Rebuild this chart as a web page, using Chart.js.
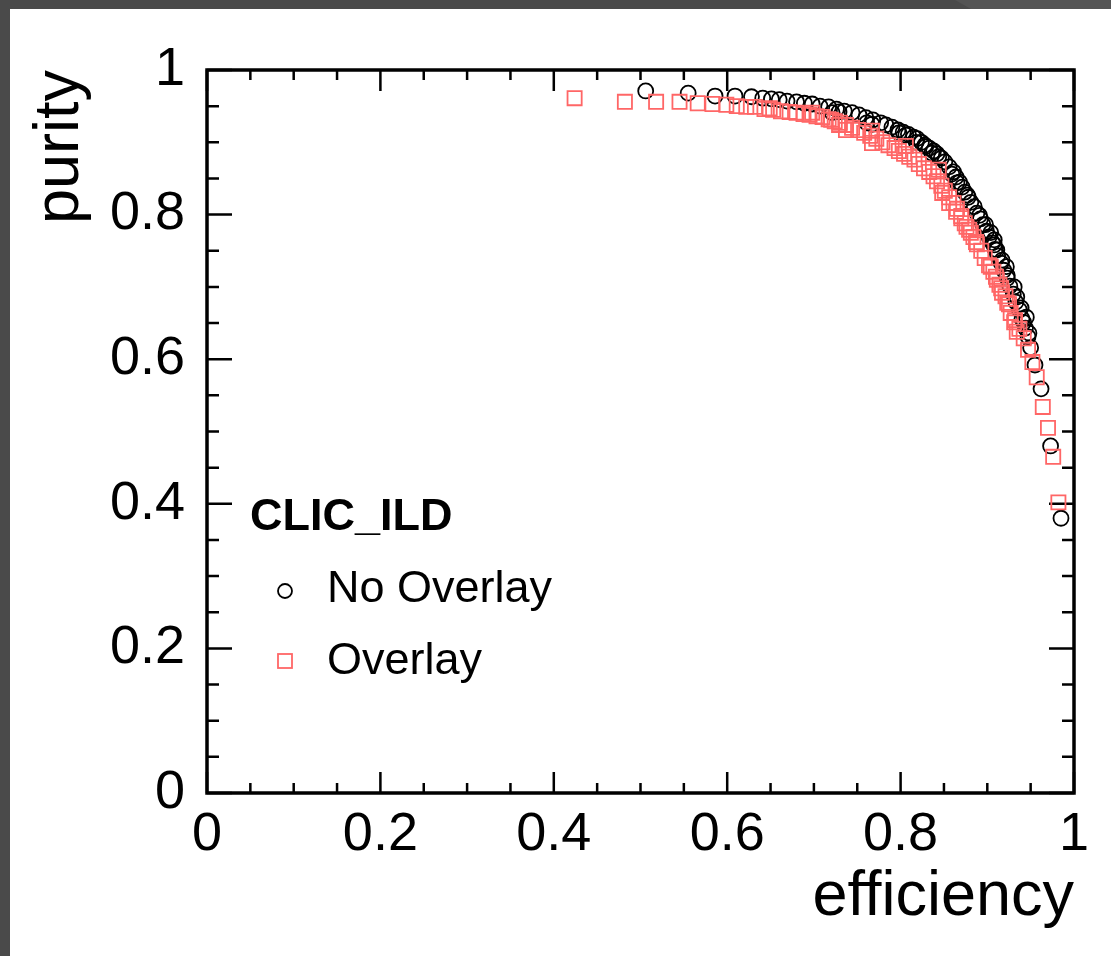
<!DOCTYPE html>
<html>
<head>
<meta charset="utf-8">
<title>purity vs efficiency</title>
<script src="https://cdn.jsdelivr.net/npm/chart.js@4.4.1/dist/chart.umd.min.js"></script>
<style>
  html, body { margin: 0; padding: 0; background: #fff; }
  #page { position: relative; width: 1111px; height: 956px; overflow: hidden; background: #fff; }
  #topbar { position: absolute; left: 0; top: 0; width: 1111px; height: 9px; background: #4a4a4a; }
  #corner { position: absolute; left: 955px; top: 0; width: 156px; height: 9px; background: #545454;
            clip-path: polygon(0 0, 100% 0, 100% 100%, 16px 100%); }
  #leftbar { position: absolute; left: 0; top: 0; width: 10px; height: 956px; background: #4a4a4a; }
  #wrap { position: absolute; left: 10px; top: 9px; width: 1101px; height: 947px; }
</style>
</head>
<body>
<div id="page">
  <div id="topbar"></div>
  <div id="corner"></div>
  <div id="leftbar"></div>
  <div id="wrap"><canvas id="rocChart" width="1101" height="947"></canvas></div>
</div>
<script>
// <=================== data ===================>
const seriesNames = ['No Overlay', 'Overlay'];
const legendTitle = 'CLIC_ILD';
const xTickLabels = ['0', '0.2', '0.4', '0.6', '0.8', '1'];
const yTickLabels = ['0', '0.2', '0.4', '0.6', '0.8', '1'];

// No Overlay (black circles)
const effNoOverlay = [
  0.506, 0.555, 0.586, 0.609, 0.628, 0.641, 0.651, 0.660, 0.669, 0.680,
  0.689, 0.698, 0.707, 0.717, 0.721, 0.726, 0.729, 0.735, 0.744, 0.752,
  0.760, 0.761, 0.767, 0.768, 0.777, 0.783, 0.790, 0.797, 0.798, 0.803,
  0.806, 0.809, 0.815, 0.818, 0.819, 0.824, 0.828, 0.829, 0.833, 0.836,
  0.838, 0.842, 0.844, 0.847, 0.851, 0.856, 0.859, 0.861, 0.864, 0.865,
  0.868, 0.871, 0.874, 0.877, 0.878, 0.881, 0.885, 0.888, 0.891, 0.892,
  0.895, 0.898, 0.899, 0.902, 0.904, 0.906, 0.908, 0.908, 0.909, 0.911,
  0.912, 0.916, 0.917, 0.919, 0.922, 0.923, 0.923, 0.926, 0.930, 0.931,
  0.933, 0.934, 0.937, 0.939, 0.940, 0.942, 0.944, 0.945, 0.947, 0.948,
  0.950, 0.955, 0.962, 0.973, 0.985
];
const purNoOverlay = [
  0.971, 0.968, 0.964, 0.964, 0.963, 0.961, 0.960, 0.959, 0.957, 0.956,
  0.954, 0.953, 0.950, 0.949, 0.941, 0.946, 0.942, 0.943, 0.941, 0.938,
  0.934, 0.927, 0.925, 0.931, 0.927, 0.924, 0.921, 0.917, 0.913, 0.914,
  0.910, 0.911, 0.907, 0.900, 0.905, 0.900, 0.896, 0.894, 0.892, 0.885,
  0.888, 0.884, 0.880, 0.878, 0.873, 0.866, 0.856, 0.859, 0.852, 0.844,
  0.845, 0.838, 0.831, 0.827, 0.824, 0.817, 0.811, 0.802, 0.799, 0.794,
  0.786, 0.786, 0.777, 0.769, 0.775, 0.761, 0.765, 0.758, 0.752, 0.751,
  0.743, 0.733, 0.737, 0.723, 0.728, 0.712, 0.716, 0.701, 0.690, 0.700,
  0.679, 0.686, 0.668, 0.671, 0.656, 0.651, 0.643, 0.658, 0.631, 0.636,
  0.616, 0.592, 0.559, 0.480, 0.380
];

// Overlay (red squares)
const effOverlay = [
  0.424, 0.482, 0.518, 0.545, 0.566, 0.583, 0.599, 0.611, 0.622, 0.632,
  0.643, 0.649, 0.653, 0.662, 0.672, 0.680, 0.688, 0.695, 0.698, 0.703,
  0.710, 0.717, 0.720, 0.724, 0.729, 0.730, 0.737, 0.737, 0.744,
  0.751, 0.758, 0.765, 0.767, 0.767, 0.772, 0.779, 0.786, 0.793,
  0.798, 0.804, 0.806, 0.810, 0.816, 0.821, 0.827, 0.833, 0.838,
  0.842, 0.844, 0.847, 0.848, 0.851, 0.856, 0.856, 0.861, 0.864,
  0.865, 0.870, 0.870, 0.874, 0.876, 0.879, 0.881, 0.884, 0.887, 0.888,
  0.893, 0.897, 0.902, 0.904, 0.907, 0.910, 0.911, 0.914, 0.916, 0.917,
  0.921, 0.923, 0.925, 0.927, 0.931, 0.932, 0.934, 0.937, 0.942, 0.947,
  0.952, 0.957, 0.964, 0.970, 0.976, 0.982
];
const purOverlay = [
  0.961, 0.956, 0.956, 0.956, 0.954, 0.953, 0.952, 0.950, 0.949, 0.949,
  0.946, 0.947, 0.945, 0.943, 0.942, 0.941, 0.939, 0.938, 0.941, 0.936,
  0.935, 0.932, 0.931, 0.929, 0.924, 0.927, 0.924, 0.917, 0.920,
  0.917, 0.913, 0.909, 0.916, 0.899, 0.905, 0.900, 0.896, 0.892,
  0.888, 0.884, 0.895, 0.880, 0.876, 0.870, 0.864, 0.859, 0.853,
  0.846, 0.862, 0.840, 0.830, 0.833, 0.824, 0.816, 0.816, 0.804,
  0.808, 0.798, 0.795, 0.788, 0.783, 0.779, 0.775, 0.769, 0.762, 0.759,
  0.750, 0.740, 0.730, 0.728, 0.721, 0.714, 0.710, 0.703, 0.698, 0.692,
  0.687, 0.678, 0.676, 0.664, 0.651, 0.654, 0.638, 0.642, 0.629, 0.613,
  0.596, 0.575, 0.534, 0.505, 0.465, 0.402
];

const FONT = '"Liberation Sans", Arial, Helvetica, sans-serif';
const RED = '#ff6666';

function toPoints(xs, ys) {
    return xs.map((x, i) => ({ x: x, y: ys[i] }));
}

// ROOT style frame: box plus inward ticks on all four sides
const rootFrame = {
    id: 'rootFrame',
    beforeDatasetsDraw(chart) {
        const { ctx, chartArea: a, scales: { x, y } } = chart;
        ctx.save();
        ctx.strokeStyle = '#000';
        ctx.lineWidth = 2.5;
        ctx.beginPath();
        for (let k = 0; k <= 20; k++) {
            const v = k / 20;
            const major = k % 4 === 0;
            const px = x.getPixelForValue(v);
            const lx = major ? 21 : 10;
            ctx.moveTo(px, a.bottom); ctx.lineTo(px, a.bottom - lx);
            ctx.moveTo(px, a.top); ctx.lineTo(px, a.top + lx);
            const py = y.getPixelForValue(v);
            const ly = major ? 25 : 12;
            ctx.moveTo(a.left, py); ctx.lineTo(a.left + ly, py);
            ctx.moveTo(a.right, py); ctx.lineTo(a.right - ly, py);
        }
        ctx.stroke();
        ctx.lineWidth = 3.5;
        ctx.strokeRect(a.left, a.top, a.right - a.left, a.bottom - a.top);
        ctx.restore();
    }
};

// legend box inside the frame (no border, like TLegend with fill 0)
const rootLegend = {
    id: 'rootLegend',
    afterDatasetsDraw(chart) {
        const { ctx, chartArea: a } = chart;
        const lx = a.left + 43;
        ctx.save();
        ctx.fillStyle = '#000';
        ctx.textAlign = 'left';
        ctx.textBaseline = 'alphabetic';
        ctx.font = 'bold 45px ' + FONT;
        ctx.fillText(legendTitle, lx, a.top + 460);

        ctx.font = '45px ' + FONT;
        ctx.fillText(seriesNames[0], lx + 77, a.top + 532);
        ctx.fillText(seriesNames[1], lx + 77, a.top + 604);

        // markers
        ctx.lineWidth = 1.8;
        ctx.strokeStyle = '#000';
        ctx.beginPath();
        ctx.arc(lx + 35, a.top + 521, 7, 0, Math.PI * 2);
        ctx.stroke();
        ctx.strokeStyle = RED;
        ctx.strokeRect(lx + 35 - 7, a.top + 591 - 7, 14, 14);
        ctx.restore();
    }
};

const ctx = document.getElementById('rocChart').getContext('2d');
window.rocChart = new Chart(ctx, {
    type: 'scatter',
    data: {
        datasets: [
            {
                label: seriesNames[1],
                data: toPoints(effOverlay, purOverlay),
                pointStyle: 'rect',
                pointRadius: 10,
                pointBorderWidth: 1.8,
                pointBorderColor: RED,
                pointBackgroundColor: 'rgba(0,0,0,0)',
                showLine: false,
                order: 0
            },
            {
                label: seriesNames[0],
                data: toPoints(effNoOverlay, purNoOverlay),
                pointStyle: 'circle',
                pointRadius: 7.5,
                pointBorderWidth: 1.8,
                pointBorderColor: '#000',
                pointBackgroundColor: 'rgba(0,0,0,0)',
                showLine: false,
                order: 1
            }
        ]
    },
    options: {
        responsive: false,
        animation: false,
        events: [],
        layout: { padding: { left: 0, top: 61, right: 37, bottom: 0 } },
        plugins: {
            legend: { display: false },
            tooltip: { enabled: false }
        },
        scales: {
            x: {
                type: 'linear',
                min: 0,
                max: 1,
                grid: { display: false, drawTicks: false },
                border: { display: false },
                ticks: {
                    stepSize: 0.2,
                    autoSkip: false,
                    maxRotation: 0,
                    padding: 15,
                    color: '#000',
                    font: { family: FONT, size: 54, lineHeight: 1 },
                    callback: (v, i) => xTickLabels[i]
                },
                title: {
                    display: true,
                    text: 'efficiency',
                    align: 'end',
                    color: '#000',
                    font: { family: FONT, size: 63, lineHeight: 1 },
                    padding: { top: 0, bottom: 27 }
                },
                afterFit: s => { s.height = 163; }
            },
            y: {
                type: 'linear',
                min: 0,
                max: 1,
                grid: { display: false, drawTicks: false },
                border: { display: false },
                ticks: {
                    stepSize: 0.2,
                    autoSkip: false,
                    padding: 22,
                    color: '#000',
                    font: { family: FONT, size: 54, lineHeight: 1 },
                    callback: (v, i) => yTickLabels[i]
                },
                title: {
                    display: true,
                    text: 'purity',
                    align: 'end',
                    color: '#000',
                    font: { family: FONT, size: 63, lineHeight: 1 },
                    padding: { top: 19, bottom: 0 }
                },
                afterFit: s => { s.width = 197; }
            }
        }
    },
    plugins: [rootFrame, rootLegend]
});
</script>
</body>
</html>
